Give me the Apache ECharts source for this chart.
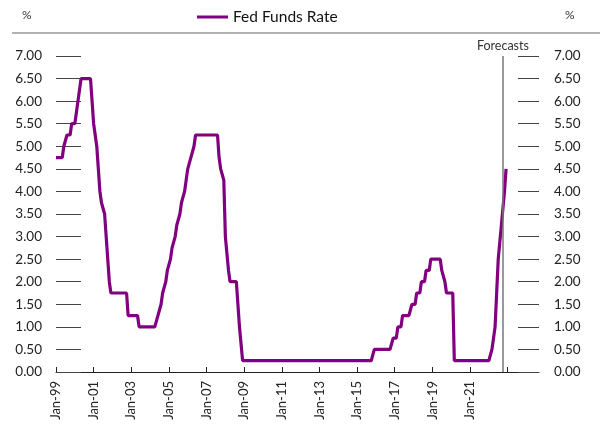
<!DOCTYPE html>
<html>
<head>
<meta charset="utf-8">
<script src="https://cdn.jsdelivr.net/npm/echarts@6/dist/echarts.min.js"></script>
<style>
  html, body { margin: 0; padding: 0; background: #fff; }
  #main { width: 602px; height: 426px; }
</style>
</head>
<body>
<div id="main"></div>
<script>
// monthly categories Jan-99 .. Sep-24 (axis runs past the data)
const months = ['Jan', 'Feb', 'Mar', 'Apr', 'May', 'Jun', 'Jul', 'Aug', 'Sep', 'Oct', 'Nov', 'Dec'];
let categories = [];
for (let y = 1999; y <= 2024; y++) {
  for (let m = 0; m < 12; m++) {
    if (y === 2024 && m > 8) break;
    categories.push(months[m] + '-' + String(y % 100).padStart(2, '0'));
  }
}

// Fed funds target rate (upper bound), end of month, %
const rate1999 = [4.75, 4.75, 4.75, 4.75, 4.75, 5.00, 5.00, 5.25, 5.25, 5.25, 5.50, 5.50];
const rate2000 = [5.50, 5.75, 6.00, 6.00, 6.50, 6.50, 6.50, 6.50, 6.50, 6.50, 6.50, 6.50];
const rate2001 = [5.50, 5.50, 5.00, 4.50, 4.00, 3.75, 3.75, 3.50, 3.00, 2.50, 2.00, 1.75];
const rate2002 = [1.75, 1.75, 1.75, 1.75, 1.75, 1.75, 1.75, 1.75, 1.75, 1.75, 1.25, 1.25];
const rate2003 = [1.25, 1.25, 1.25, 1.25, 1.25, 1.00, 1.00, 1.00, 1.00, 1.00, 1.00, 1.00];
const rate2004 = [1.00, 1.00, 1.00, 1.00, 1.00, 1.25, 1.25, 1.50, 1.75, 1.75, 2.00, 2.25];
const rate2005 = [2.25, 2.50, 2.75, 2.75, 3.00, 3.25, 3.25, 3.50, 3.75, 3.75, 4.00, 4.25];
const rate2006 = [4.50, 4.50, 4.75, 4.75, 5.00, 5.25, 5.25, 5.25, 5.25, 5.25, 5.25, 5.25];
const rate2007 = [5.25, 5.25, 5.25, 5.25, 5.25, 5.25, 5.25, 5.25, 4.75, 4.50, 4.50, 4.25];
const rate2008 = [3.00, 3.00, 2.25, 2.00, 2.00, 2.00, 2.00, 2.00, 2.00, 1.00, 1.00, 0.25];
const rate2009 = [0.25, 0.25, 0.25, 0.25, 0.25, 0.25, 0.25, 0.25, 0.25, 0.25, 0.25, 0.25];
const rate2010 = [0.25, 0.25, 0.25, 0.25, 0.25, 0.25, 0.25, 0.25, 0.25, 0.25, 0.25, 0.25];
const rate2011 = [0.25, 0.25, 0.25, 0.25, 0.25, 0.25, 0.25, 0.25, 0.25, 0.25, 0.25, 0.25];
const rate2012 = [0.25, 0.25, 0.25, 0.25, 0.25, 0.25, 0.25, 0.25, 0.25, 0.25, 0.25, 0.25];
const rate2013 = [0.25, 0.25, 0.25, 0.25, 0.25, 0.25, 0.25, 0.25, 0.25, 0.25, 0.25, 0.25];
const rate2014 = [0.25, 0.25, 0.25, 0.25, 0.25, 0.25, 0.25, 0.25, 0.25, 0.25, 0.25, 0.25];
const rate2015 = [0.25, 0.25, 0.25, 0.25, 0.25, 0.25, 0.25, 0.25, 0.25, 0.25, 0.25, 0.50];
const rate2016 = [0.50, 0.50, 0.50, 0.50, 0.50, 0.50, 0.50, 0.50, 0.50, 0.50, 0.50, 0.75];
const rate2017 = [0.75, 0.75, 1.00, 1.00, 1.00, 1.25, 1.25, 1.25, 1.25, 1.25, 1.25, 1.50];
const rate2018 = [1.50, 1.50, 1.75, 1.75, 1.75, 2.00, 2.00, 2.00, 2.25, 2.25, 2.25, 2.50];
const rate2019 = [2.50, 2.50, 2.50, 2.50, 2.50, 2.50, 2.25, 2.25, 2.00, 1.75, 1.75, 1.75];
const rate2020 = [1.75, 1.75, 0.25, 0.25, 0.25, 0.25, 0.25, 0.25, 0.25, 0.25, 0.25, 0.25];
const rate2021 = [0.25, 0.25, 0.25, 0.25, 0.25, 0.25, 0.25, 0.25, 0.25, 0.25, 0.25, 0.25];
const rate2022 = [0.25, 0.25, 0.50, 0.50, 1.00, 1.75, 2.50, 2.50, 3.25, 3.25, 4.00, 4.50];

const fedFunds = [].concat(
  rate1999, rate2000, rate2001, rate2002, rate2003, rate2004, rate2005, rate2006,
  rate2007, rate2008, rate2009, rate2010, rate2011, rate2012, rate2013, rate2014,
  rate2015, rate2016, rate2017, rate2018, rate2019, rate2020, rate2021, rate2022
);

const forecastStart = 'Oct-22';
const lastLabelIndex = categories.indexOf('Jan-21');

const font = 'Lato, "Open Sans", sans-serif';
const chart = echarts.init(document.getElementById('main'));

let option = {
  animation: false,
  textStyle: { fontFamily: font },
  legend: {
    left: 192,
    top: 4,
    icon: 'rect',
    itemWidth: 31,
    itemHeight: 3,
    itemGap: 2,
    textStyle: { fontSize: 15.5, color: '#111', fontFamily: font },
    data: ['Fed Funds Rate']
  },
  grid: {
    left: 56,
    right: 63,
    top: 56,
    bottom: 54
  },
  graphic: [
    { type: 'text', left: 22, top: 9, style: { text: '%', fontSize: 12, fill: '#333', fontFamily: font } },
    { type: 'text', left: 565, top: 9, style: { text: '%', fontSize: 12, fill: '#333', fontFamily: font } },
    { type: 'line', shape: { x1: 12, y1: 33, x2: 600, y2: 33 }, style: { stroke: '#666', lineWidth: 1 } }
  ],
  xAxis: {
    type: 'category',
    boundaryGap: false,
    data: categories,
    axisLine: { lineStyle: { color: '#222', width: 1 } },
    axisTick: {
      inside: true,
      length: 5,
      lineStyle: { color: '#222' },
      interval: function (i) { return i % 24 === 0; }
    },
    axisLabel: {
      rotate: 90,
      margin: 9,
      fontSize: 13,
      color: '#222',
      fontFamily: font,
      interval: function (i) { return i % 24 === 0 && i <= lastLabelIndex; }
    }
  },
  yAxis: [
    {
      type: 'value',
      position: 'left',
      min: 0,
      max: 7,
      interval: 0.5,
      axisLine: { show: false },
      axisTick: { show: true, inside: true, length: 25, lineStyle: { color: '#444' } },
      splitLine: { show: false },
      axisLabel: {
        margin: 14,
        fontSize: 13.5,
        color: '#222',
        fontFamily: font,
        formatter: function (v) { return v.toFixed(2); }
      }
    },
    {
      type: 'value',
      position: 'right',
      min: 0,
      max: 7,
      interval: 0.5,
      axisLine: { show: false },
      axisTick: { show: true, inside: true, length: 21, lineStyle: { color: '#444' } },
      splitLine: { show: false },
      axisLabel: {
        margin: 15,
        fontSize: 13.5,
        color: '#222',
        fontFamily: font,
        formatter: function (v) { return v.toFixed(2); }
      }
    }
  ],
  series: [
    {
      name: 'Fed Funds Rate',
      type: 'line',
      data: fedFunds,
      showSymbol: false,
      symbol: 'none',
      itemStyle: { color: '#800080' },
      lineStyle: { color: '#800080', width: 3.2 },
      markLine: {
        silent: true,
        symbol: ['none', 'none'],
        lineStyle: { color: '#777', width: 1.5, type: 'solid' },
        label: {
          show: true,
          position: 'end',
          formatter: 'Forecasts',
          fontSize: 12.5,
          color: '#333',
          fontFamily: font,
          distance: 4
        },
        data: [{ xAxis: forecastStart }]
      }
    }
  ]
};

chart.setOption(option);
</script>
</body>
</html>
